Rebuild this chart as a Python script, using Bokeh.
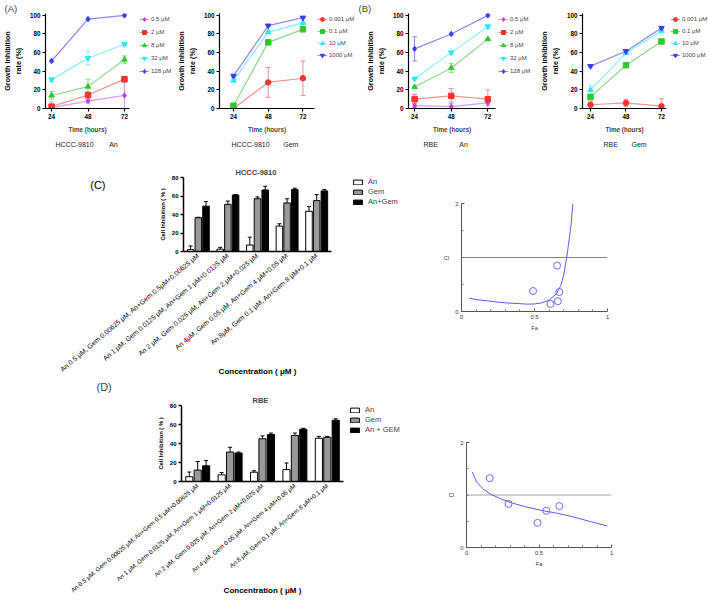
from bokeh.plotting import figure
from bokeh.layouts import column, row, Spacer
from bokeh.models import (Range1d, Legend, LegendItem, Whisker, TeeHead,
                          ColumnDataSource, Title, FixedTicker, Span, LinearAxis)
from bokeh.transform import dodge
from bokeh.embed import file_html
from bokeh.resources import INLINE

FONT = "Liberation Sans"
NB = "\u00a0"

# ---------------- data ----------------
HOURS = [24, 48, 72]
AN_LABELS = ["0.5 μM", "2 μM", "8 μM", "32 μM", "128 μM"]
GEM_LABELS = ["0.001 μM", "0.1 μM", "10 μM", "1000 μM"]

# (A) HCCC-9810 An
A_AN_MEAN = [[1, 8, 14], [2, 14.5, 31.5], [14, 23.5, 52.5], [31, 54, 69], [51, 96, 100]]
A_AN_SD = [[6, 2, 14], [2, 3, 3], [4, 8, 4], [2, 7, 2], [1, 1, 1]]
# (A) HCCC-9810 Gem
A_GEM_MEAN = [[0, 28, 32.5], [3, 71, 85], [30, 82, 92], [35, 89, 97.5]]
A_GEM_SD = [[1, 16, 18.5], [2, 2, 1.5], [1, 1.5, 1], [1, 1, 1]]
# (B) RBE An
B_AN_MEAN = [[3, 2, 6], [10, 13.5, 10], [23, 43.5, 74.5], [32, 60, 88], [64, 80, 100]]
B_AN_SD = [[2, 5, 3], [5, 8, 10], [1, 5, 1], [1, 2, 2], [13, 1, 1]]
# (B) RBE Gem
B_GEM_MEAN = [[4, 6, 2.5], [12.5, 46.5, 72], [20, 59.5, 83.5], [45.5, 61.5, 86.5]]
B_GEM_SD = [[4, 4, 8], [2, 2, 2], [5, 1, 1], [1, 1, 1]]

# (C) HCCC-9810 combination bars
C_GROUPS = ["An 0.5 μM, Gem 0.00625 μM, An+Gem 0.5μM+0.00625 μM",
            "An 1 μM, Gem 0.0125 μM, An+Gem 1 μM+0.0125 μM",
            "An 2 μM, Gem 0.025 μM, An+Gem 2 μM+0.025 μM",
            "An 4μM, Gem 0.05 μM, An+Gem 4 μM+0.05 μM",
            "An 8μM, Gem 0.1 μM, An+Gem 8 μM+0.1 μM"]
C_AN = [2, 2.5, 7, 27.5, 43.5]
C_AN_SD = [4, 2, 8.5, 2.5, 5]
C_GEM = [36.5, 51, 57, 52.5, 55]
C_GEM_SD = [0.5, 3.5, 2, 4.5, 6.5]
C_COMBO = [49, 61, 66.5, 67, 65.5]
C_COMBO_SD = [5, 0.5, 4, 1.5, 1.5]

# (D) RBE combination bars
D_GROUPS = ["An 0.5 μM, Gem 0.00625 μM, An+Gem 0.5 μM+0.00625 μM",
            "An 1 μM, Gem 0.0125 μM, An+Gem 1 μM+0.0125 μM",
            "An 2 μM, Gem 0.025 μM, An+Gem 2 μM+0.025 μM",
            "An 4 μM, Gem 0.05 μM, An+Gem 4 μM+0.05 μM",
            "An 8 μM, Gem 0.1 μM, An+Gem 8 μM+0.1 μM"]
D_AN = [5, 7, 9.8, 12.5, 45.5]
D_AN_SD = [5, 2.5, 1.5, 7, 2]
D_GEM = [12, 31, 45, 48.5, 46.5]
D_GEM_SD = [9, 5, 3, 2.5, 1]
D_COMBO = [16.5, 30, 49.5, 55, 64.5]
D_COMBO_SD = [5.5, 1, 1.5, 1, 1.5]

# Fa-CI plots
C_PT_FA = [0.49, 0.61, 0.66, 0.67, 0.655]
C_PT_CI = [0.38, 0.14, 0.19, 0.36, 0.85]
C_CURVE_FA = [0.05, 0.1, 0.2, 0.3, 0.4, 0.45, 0.5, 0.55, 0.6, 0.65, 0.68, 0.7, 0.72, 0.74, 0.75, 0.763]
C_CURVE_CI = [0.25, 0.22, 0.19, 0.16, 0.145, 0.136, 0.14, 0.16, 0.21, 0.33, 0.48, 0.68, 0.99, 1.38, 1.6, 2.0]

D_PT_FA = [0.16, 0.29, 0.49, 0.55, 0.64]
D_PT_CI = [1.32, 0.83, 0.47, 0.70, 0.79]
D_CURVE_FA = [0.04, 0.07, 0.12, 0.17, 0.235, 0.3, 0.4, 0.51, 0.63, 0.74, 0.86, 0.97]
D_CURVE_CI = [1.44, 1.25, 1.10, 1.01, 0.93, 0.86, 0.78, 0.71, 0.65, 0.58, 0.49, 0.41]

AN_COLORS = ["#c23cf0", "#f03434", "#2ec82e", "#2ee8f0", "#3c3cf5"]
AN_LINES = ["#dc9af5", "#f59090", "#8ad88a", "#8aeef5", "#8a8af5"]
AN_MARKERS = ["diamond", "square", "triangle", "inverted_triangle", "diamond"]
GEM_COLORS = ["#f03434", "#2ec82e", "#2ee8f0", "#3c3cf5"]
GEM_LINES = ["#f59090", "#8ad88a", "#8aeef5", "#8a8af5"]
GEM_MARKERS = ["circle", "square", "triangle", "inverted_triangle"]


def base_axis(ax, lab_size="6px", lab_bold=True, axl_size="6.2px", axl_bold=True):
    ax.axis_line_color = "black"
    ax.major_label_text_font = FONT
    ax.major_label_text_font_size = lab_size
    ax.major_label_text_font_style = "bold" if lab_bold else "normal"
    ax.major_label_text_color = "black"
    ax.axis_label_text_font = FONT
    ax.axis_label_text_font_size = axl_size
    ax.axis_label_text_font_style = "bold" if axl_bold else "normal"
    ax.axis_label_text_color = "black"
    ax.minor_tick_line_color = None


def line_panel(labels, means, sds, colors, lcolors, markers, xr, fw, left, right,
               caption, cap_off, leg_dx, spacing, letter=None):
    FH = 95
    x0, x1 = xr
    x_ext = x0 + (x1 - x0) * (fw + right) / fw   # frame also covers the legend strip
    p = figure(frame_width=fw + right, frame_height=FH, x_range=Range1d(x0, x_ext),
               y_range=Range1d(0, 102), min_border_left=left, min_border_right=0,
               min_border_top=12, min_border_bottom=45, toolbar_location=None,
               output_backend="svg")
    p.outline_line_color = None
    p.xgrid.visible = False
    p.ygrid.visible = False
    items = []
    for lab, m, s, c, lc, mk in zip(labels, means, sds, colors, lcolors, markers):
        src = ColumnDataSource(dict(x=HOURS, y=m,
                                    lo=[max(0, a - b) for a, b in zip(m, s)],
                                    hi=[a + b for a, b in zip(m, s)]))
        p.add_layout(Whisker(source=src, base="x", upper="hi", lower="lo",
                             line_color=lc, line_width=1,
                             upper_head=TeeHead(size=5, line_color=lc, line_width=1),
                             lower_head=TeeHead(size=5, line_color=lc, line_width=1)))
        rl = p.line("x", "y", source=src, line_color=lc, line_width=1.2)
        rs = p.scatter("x", "y", source=src, marker=mk, size=5.5, fill_color=c, line_color=c)
        items.append(LegendItem(label=lab, renderers=[rl, rs]))
    n = len(items)
    lh = n * 10 + (n - 1) * spacing
    leg = Legend(items=items, location=(fw + leg_dx, FH - lh - 1), spacing=spacing, padding=0,
                 margin=0, glyph_width=10, glyph_height=10, label_height=10, label_standoff=2,
                 label_text_font=FONT, label_text_font_size="6px",
                 background_fill_alpha=0, border_line_color=None)
    p.add_layout(leg)
    xa, ya = p.xaxis[0], p.yaxis[0]
    xa.bounds = (x0, x1)
    xa.ticker = FixedTicker(ticks=HOURS)
    ya.ticker = FixedTicker(ticks=[0, 20, 40, 60, 80, 100])
    ya.axis_label = "Growth inhibition\nrate (%)"
    base_axis(xa, "6.3px", True, "6.3px", True)
    base_axis(ya, "6.3px", True, "7.2px", True)
    for ax in (xa, ya):
        ax.axis_line_width = 1.2
        ax.major_tick_in = 0
        ax.major_tick_out = 3
        ax.major_tick_line_width = 1.2
        ax.major_label_standoff = 2
        ax.axis_label_standoff = 4
    # x-axis title centred under the axis line (the frame is wider than the axis)
    p.add_layout(Title(text="Time (hours)", align="left", offset=fw / 2 - 19, text_font=FONT,
                       text_font_size="6.3px", text_font_style="bold", standoff=4), "below")
    p.add_layout(Title(text=caption, align="left", offset=cap_off, text_font=FONT,
                       text_font_size="7px", text_font_style="normal", text_color="#222222",
                       standoff=9), "below")
    if letter:
        p.add_layout(Title(text=letter, align="left", offset=-(left - 2), text_font=FONT,
                           text_font_size="9.5px", text_font_style="normal", standoff=0), "above")
    return p


def bar_panel(groups, title, title_off, an, an_sd, gem, gem_sd, combo, combo_sd, combo_label,
              fw, fh, left, right, top, lab_size, leg_dx, leg_dy, conc_standoff):
    n = len(groups)
    idx = list(range(n))
    x_ext = -0.5 + n * (fw + right) / fw   # frame also covers the legend strip
    p = figure(x_range=Range1d(-0.5, x_ext), y_range=Range1d(0, 80),
               frame_width=fw + right, frame_height=fh, min_border_left=left, min_border_right=0,
               min_border_top=top, min_border_bottom=10,
               toolbar_location=None, output_backend="svg")
    p.outline_line_color = None
    p.xgrid.visible = False
    p.ygrid.visible = False
    p.add_layout(Title(text=title, align="left", offset=title_off, text_font=FONT,
                       text_font_size="7.5px", text_font_style="bold", standoff=2), "above")
    series = [("An", an, an_sd, "white", -0.26), ("Gem", gem, gem_sd, "#9a9a9a", 0.0),
              (combo_label, combo, combo_sd, "black", 0.26)]
    items = []
    for lab, vals, sds, fill, off in series:
        src = ColumnDataSource(dict(x=idx, v=vals, t=[a + b for a, b in zip(vals, sds)]))
        r = p.vbar(x=dodge("x", off), top="v", width=0.22, source=src,
                   fill_color=fill, line_color="black", line_width=1)
        p.add_layout(Whisker(source=src, base=dodge("x", off), upper="t", lower="v",
                             line_color="black", line_width=1,
                             upper_head=TeeHead(size=4, line_color="black", line_width=1),
                             lower_head=None))
        items.append(LegendItem(label=lab, renderers=[r]))
    leg = Legend(items=items, location=(fw + leg_dx, fh + leg_dy - 29), spacing=1, padding=0,
                 margin=0, glyph_width=11, glyph_height=6, label_height=9, label_standoff=5,
                 label_text_font=FONT, label_text_font_size="7.5px",
                 background_fill_alpha=0, border_line_color=None)
    p.add_layout(leg)
    xa, ya = p.xaxis[0], p.yaxis[0]
    ya.ticker = FixedTicker(ticks=[0, 20, 40, 60, 80])
    ya.axis_label = "Cell Inhibition ( % )"
    base_axis(ya, "6px", True, "5.8px", True)
    ya.axis_line_width = 1.5
    ya.major_tick_in = 0
    ya.major_tick_out = 3
    ya.major_tick_line_width = 1.5
    ya.major_label_standoff = 2
    ya.axis_label_standoff = 3
    base_axis(xa, lab_size, False, "8px", True)
    xa.bounds = (-0.5, n - 0.5)
    xa.ticker = FixedTicker(ticks=idx)
    xa.major_label_overrides = dict(zip(idx, groups))
    xa.axis_line_width = 1.5
    xa.major_tick_line_color = None
    xa.major_tick_out = 0
    xa.major_label_orientation = 0.70
    xa.major_label_standoff = 3
    # axis title centred under the bar groups (the frame also holds the legend strip)
    mid = (n - 1) // 2
    title_ax = LinearAxis(ticker=FixedTicker(ticks=[mid]),
                          major_label_overrides={mid: "Concentration ( μM )"},
                          axis_line_color=None, major_tick_line_color=None,
                          minor_tick_line_color=None, major_tick_out=0, major_tick_in=0,
                          major_label_standoff=conc_standoff, major_label_text_font=FONT,
                          major_label_text_font_size="8px", major_label_text_font_style="bold",
                          major_label_text_color="black")
    p.add_layout(title_ax, "below")
    return p


def ci_panel(pt_fa, pt_ci, cur_fa, cur_ci, fw, fh, left, top, span_color, span_width):
    p = figure(x_range=Range1d(0, 1), y_range=Range1d(0, 2), frame_width=fw, frame_height=fh,
               min_border_left=left, min_border_top=top, min_border_right=10, min_border_bottom=8,
               toolbar_location=None, output_backend="svg")
    p.outline_line_color = None
    p.xgrid.visible = False
    p.ygrid.visible = False
    p.add_layout(Span(location=1, dimension="width", line_color=span_color,
                      line_width=span_width, level="underlay"))
    p.line(cur_fa, cur_ci, line_color="#5a5aff", line_width=1)
    p.scatter(pt_fa, pt_ci, marker="circle", size=7, fill_color=None,
              line_color="#6a6aff", line_width=1)
    xa, ya = p.xaxis[0], p.yaxis[0]
    xa.ticker = FixedTicker(ticks=[0, 0.5, 1], minor_ticks=[i / 10 for i in range(1, 10)])
    xa.major_label_overrides = {0: "0", 0.5: "0.5", 1: "1"}
    ya.ticker = FixedTicker(ticks=[0, 2], minor_ticks=[0.5, 1, 1.5])
    ya.major_label_overrides = {0: "0", 2: "2"}
    xa.axis_label = "Fa"
    ya.axis_label = "CI"
    for ax in (xa, ya):
        base_axis(ax, "5.8px", False, "5.5px", False)
        ax.axis_line_color = "#555555"
        ax.major_label_text_color = "#333333"
        ax.axis_label_text_color = "#333333"
        ax.major_tick_in = 3
        ax.major_tick_out = 0
        ax.major_tick_line_color = "#555555"
        ax.minor_tick_line_color = "#777777"
        ax.minor_tick_in = 2
        ax.minor_tick_out = 0
        ax.major_label_standoff = 3
        ax.axis_label_standoff = 3
    ya.axis_label_orientation = "horizontal"
    return p


def cap(cell, drug, n):
    return cell + NB * n + drug


pA1 = line_panel(AN_LABELS, A_AN_MEAN, A_AN_SD, AN_COLORS, AN_LINES, AN_MARKERS, (20, 75.3),
                 84, 43, 45, cap("HCCC-9810", "An", 8), 10, 10, 3, "(A)")
pA2 = line_panel(GEM_LABELS, A_GEM_MEAN, A_GEM_SD, GEM_COLORS, GEM_LINES, GEM_MARKERS, (14.3, 80),
                 95, 41, 42, cap("HCCC-9810", "Gem", 7), 12, 3, 2)
pB1 = line_panel(AN_LABELS, B_AN_MEAN, B_AN_SD, AN_COLORS, AN_LINES, AN_MARKERS, (20, 77),
                 87, 52, 38, cap("RBE", "An", 11), 15, 3, 3, "(B)")
pB2 = line_panel(GEM_LABELS, B_GEM_MEAN, B_GEM_SD, GEM_COLORS, GEM_LINES, GEM_MARKERS, (18.6, 75.4),
                 84, 49, 46, cap("RBE", "Gem", 7), 21, 4, 2)

# (C) combination bars, HCCC-9810
pC = bar_panel(C_GROUPS, "HCCC-9810", 52, C_AN, C_AN_SD, C_GEM, C_GEM_SD, C_COMBO, C_COMBO_SD,
               "An+Gem", 148, 74, 183, 90, 24, "6.8px", 21, 0, -12)
letterC = LinearAxis(ticker=FixedTicker(ticks=[72.4]), major_label_overrides={72.4: "(C)"},
                     axis_line_color=None, major_tick_line_color=None, minor_tick_line_color=None,
                     major_tick_out=0, major_tick_in=0, major_label_standoff=51,
                     major_label_text_font=FONT, major_label_text_font_size="11px",
                     major_label_text_color="black")
pC.add_layout(letterC, "left")
pCci = ci_panel(C_PT_FA, C_PT_CI, C_CURVE_FA, C_CURVE_CI, 146, 108, 40, 24, "#808080", 1)

# (D) combination bars, RBE
pD = bar_panel(D_GROUPS, "RBE", 71, D_AN, D_AN_SD, D_GEM, D_GEM_SD, D_COMBO, D_COMBO_SD,
               "An + GEM", 162, 76, 181, 78, 24, "6.2px", 6, 0, -14)
pD.add_layout(Title(text="(D)", align="left", offset=-85, text_font=FONT, text_font_size="11px",
                    text_font_style="normal", standoff=0), "above")
pDci = ci_panel(D_PT_FA, D_PT_CI, D_CURVE_FA, D_CURVE_CI, 145, 105, 45, 24, "#d0d0d0", 2)

layout = column(row(pA1, pA2, pB1, pB2),
                row(pC, column(Spacer(height=26), pCci)),
                row(pD, column(Spacer(height=40), pDci)))

with open("out.html", "w") as f:
    f.write(file_html(layout, INLINE))
